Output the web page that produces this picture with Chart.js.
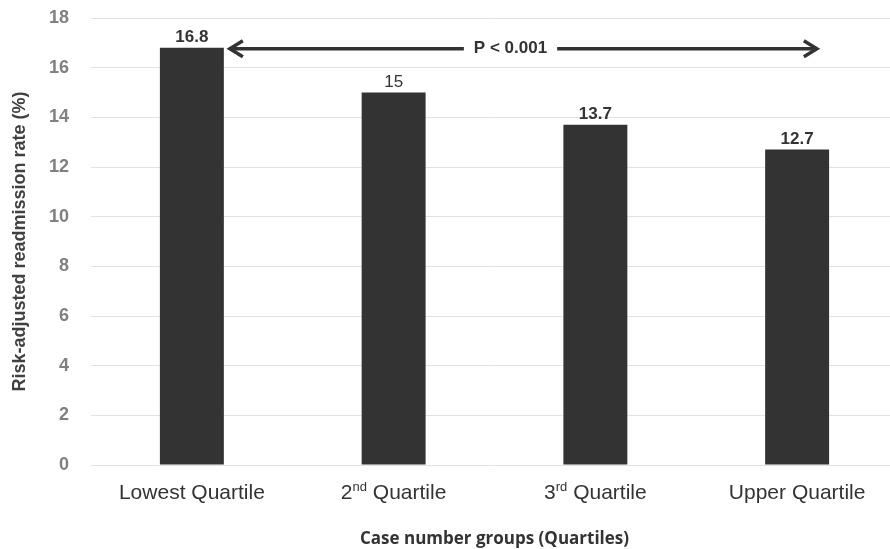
<!DOCTYPE html>
<html>
<head>
<meta charset="utf-8">
<script src="https://cdn.jsdelivr.net/npm/chart.js@4.4.0/dist/chart.umd.min.js"></script>
<style>
  html, body { margin: 0; padding: 0; background: #ffffff; overflow: hidden; }
  #wrap { width: 910px; height: 549px; position: relative; }
</style>
</head>
<body>
<div id="wrap"><canvas id="c" width="910" height="549"></canvas></div>
<script>
const categories = ['Lowest Quartile', '2nd Quartile', '3rd Quartile', 'Upper Quartile'];
const readmissionRates = [16.8, 15, 13.7, 12.7];
const yTicks = [0, 2, 4, 6, 8, 10, 12, 14, 16, 18];
const annotationText = 'P < 0.001';
const yTitle = 'Risk-adjusted readmission rate (%)';
const xTitle = 'Case number groups (Quartiles)';

const valueLabelWeights = ['bold', 'normal', 'bold', 'bold'];

const drawExtras = {
  id: 'drawExtras',
  afterDatasetsDraw(chart) {
    const ctx = chart.ctx;
    const xs = chart.scales.x, ys = chart.scales.y;
    const meta = chart.getDatasetMeta(0);
    ctx.save();
    // value labels
    ctx.fillStyle = '#333333';
    ctx.textAlign = 'center';
    ctx.textBaseline = 'alphabetic';
    meta.data.forEach((bar, i) => {
      ctx.font = valueLabelWeights[i] + ' 17px "Liberation Sans", Arial, sans-serif';
      ctx.fillText(String(readmissionRates[i]), bar.x, bar.y - 6);
    });
    // category labels with superscript ordinals
    const labelY = 493;
    categories.forEach((lab, i) => {
      const cx = xs.getPixelForValue(i);
      const m = lab.match(/^(\d+)(st|nd|rd|th)(\s.*)$/);
      const bigFont = '21px "Liberation Sans", Arial, sans-serif';
      const smallFont = '13px "Liberation Sans", Arial, sans-serif';
      ctx.textBaseline = 'middle';
      ctx.fillStyle = '#333333';
      if (m) {
        ctx.font = bigFont; const w1 = ctx.measureText(m[1]).width;
        const w3 = ctx.measureText(m[3]).width;
        ctx.font = smallFont; const w2 = ctx.measureText(m[2]).width;
        let x0 = cx - (w1 + w2 + w3) / 2;
        ctx.textAlign = 'left';
        ctx.font = bigFont; ctx.fillText(m[1], x0, labelY);
        ctx.font = smallFont; ctx.fillText(m[2], x0 + w1, labelY - 6);
        ctx.font = bigFont; ctx.fillText(m[3], x0 + w1 + w2, labelY);
      } else {
        ctx.textAlign = 'center';
        ctx.font = bigFont;
        ctx.fillText(lab, cx, labelY);
      }
    });
    // double arrow annotation
    const first = meta.data[0], last = meta.data[meta.data.length - 1];
    const ay = ys.getPixelForValue(readmissionRates[0]) + 1;
    const x1 = first.x + first.width / 2 + 4;
    const x2 = last.x + last.width * 0.34;
    const midX = (xs.getPixelForValue(1) + xs.getPixelForValue(2)) / 2 + 16;
    ctx.font = 'bold 17px "Liberation Sans", Arial, sans-serif';
    const tw = ctx.measureText(annotationText).width;
    ctx.strokeStyle = '#333333';
    ctx.lineWidth = 3.5;
    ctx.lineCap = 'butt';
    ctx.beginPath();
    ctx.moveTo(x1 + 2, ay); ctx.lineTo(midX - tw / 2 - 10, ay);
    ctx.moveTo(midX + tw / 2 + 10, ay); ctx.lineTo(x2 - 2, ay);
    ctx.stroke();
    ctx.lineJoin = 'miter';
    ctx.beginPath();
    ctx.moveTo(x1 + 15, ay - 8); ctx.lineTo(x1 + 2, ay); ctx.lineTo(x1 + 15, ay + 8);
    ctx.moveTo(x2 - 15, ay - 8); ctx.lineTo(x2 - 2, ay); ctx.lineTo(x2 - 15, ay + 8);
    ctx.stroke();
    ctx.fillStyle = '#333333';
    ctx.textAlign = 'center';
    ctx.textBaseline = 'middle';
    ctx.fillText(annotationText, midX, ay);
    ctx.restore();
  }
};

new Chart(document.getElementById('c'), {
  type: 'bar',
  data: {
    labels: categories,
    datasets: [{
      data: readmissionRates,
      backgroundColor: '#333333',
      borderWidth: 0,
      barPercentage: 0.317,
      categoryPercentage: 1.0
    }]
  },
  options: {
    responsive: false,
    animation: false,
    devicePixelRatio: 1,
    layout: { padding: { top: 0, right: 12, left: 0, bottom: 0 } },
    plugins: { legend: { display: false }, tooltip: { enabled: false } },
    scales: {
      x: {
        grid: { display: false, drawTicks: false },
        border: { display: false },
        ticks: { display: false },
        afterFit(scale) { scale.height = 84; },
        title: {
          display: true,
          text: xTitle,
          color: '#333333',
          font: { family: '"Open Sans", sans-serif', size: 17, weight: 'bold' },
          padding: { top: 0, bottom: 0 }
        }
      },
      y: {
        min: 0, max: 18,
        afterBuildTicks(scale) { scale.ticks = yTicks.map(v => ({ value: v })); },
        grid: { color: '#e2e2e2', lineWidth: 1, drawTicks: false },
        border: { display: false },
        ticks: {
          color: '#808080',
          padding: 22,
          font: { family: '"Liberation Sans", Arial, sans-serif', size: 18, weight: 'bold' }
        },
        afterFit(scale) {
          scale.width = 91;
          scale.paddingTop = 18;
          scale.paddingBottom = 11;
        },
        title: {
          display: true,
          text: yTitle,
          color: '#404040',
          font: { family: '"Liberation Sans", Arial, sans-serif', size: 18, weight: 'bold' },
          padding: { top: 9, bottom: 0 }
        }
      }
    }
  },
  plugins: [drawExtras]
});
</script>
</body>
</html>
